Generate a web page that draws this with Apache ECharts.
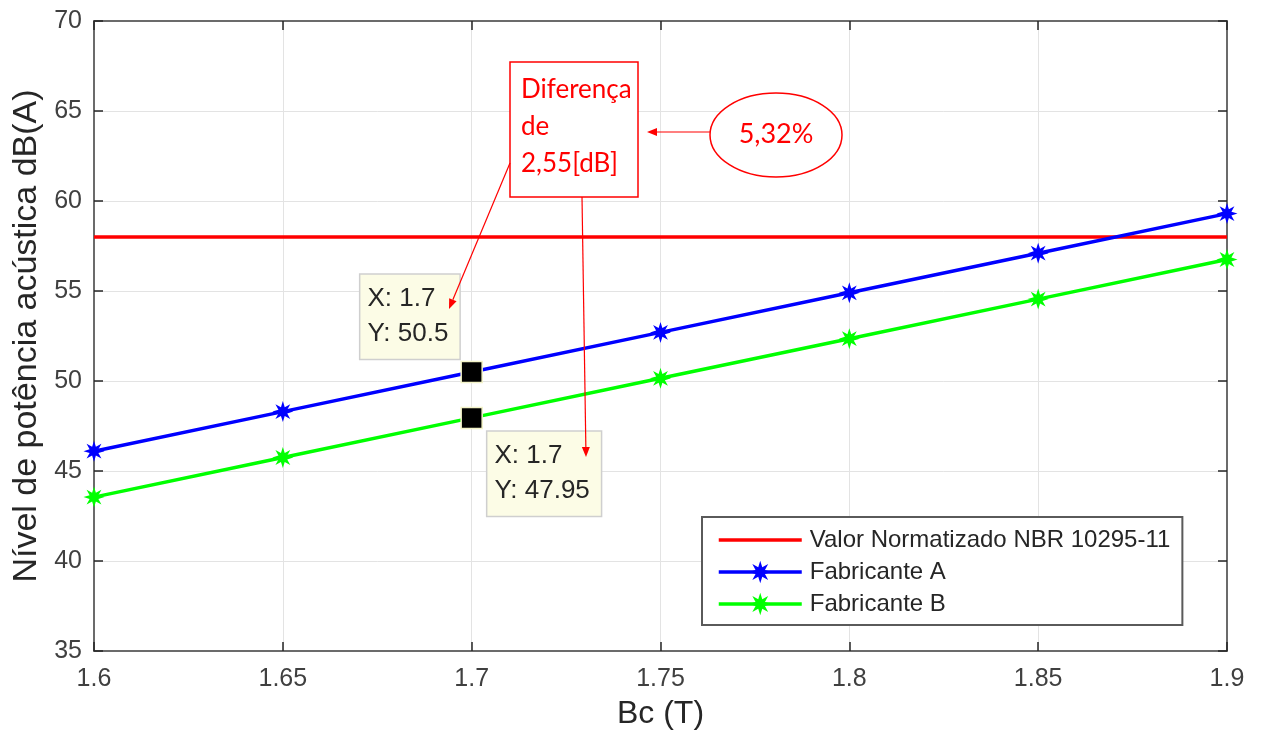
<!DOCTYPE html>
<html>
<head>
<meta charset="utf-8">
<script src="https://cdn.jsdelivr.net/npm/echarts@6/dist/echarts.min.js"></script>
<style>
html,body{margin:0;padding:0;background:#fff;}
#chart{width:1261px;height:735px;}
</style>
</head>
<body>
<div id="chart"></div>
<script>
// ---- data ----
const xValues = [1.6, 1.65, 1.7, 1.75, 1.8, 1.85, 1.9];
const fabricanteA = [46.1, 48.3, 50.5, 52.7, 54.9, 57.1, 59.3];
const fabricanteB = [43.55, 45.75, 47.95, 50.15, 52.35, 54.55, 56.75];
const normValue = 58;
const seriesNames = ['Valor Normatizado NBR 10295-11', 'Fabricante A', 'Fabricante B'];
const tipPoints = [[1.7, 50.5], [1.7, 47.95]];
const xLabel = 'Bc (T)';
const yLabel = 'Nível de potência acústica dB(A)';
const noteLines = ['Diferença', 'de', '2,55[dB]'];
const noteEllipse = '5,32%';

// ---- styling ----
const FONT = '"Liberation Sans", Arial, sans-serif';
const NOTE_FONT = 'Lato, "Open Sans", sans-serif';
const RED = '#ff0000';
const STAR = 'path://M20 10 L14.2 11.8 L17.071 17.071 L11.8 14.2 L10 20 L8.2 14.2 L2.929 17.071 L5.8 11.8 L0 10 L5.8 8.2 L2.929 2.929 L8.2 5.8 L10 0 L11.8 5.8 L17.071 2.929 L14.2 8.2 Z';
const tipLabelPos = [[-100, -86], [27, 25]];

const chart = echarts.init(document.getElementById('chart'), null, {renderer: 'canvas'});

const axisLineStyle = {color: '#6b6b6b', width: 2};
const tickStyle = {color: '#262626', width: 1.5};

const option = {
  animation: false,
  backgroundColor: '#fff',
  grid: {left: 94, right: 34, top: 21, bottom: 83, show: false},
  xAxis: [{
    type: 'value', min: 1.6, max: 1.9, interval: 0.05,
    axisLine: {show: true, onZero: false, lineStyle: axisLineStyle},
    axisTick: {show: true, inside: true, length: 9, lineStyle: tickStyle},
    splitLine: {show: true, lineStyle: {color: '#e3e3e3', width: 1}},
    axisLabel: {fontSize: 25, color: '#404040', fontFamily: FONT, margin: 16,
      formatter: v => String(+v.toFixed(2))},
    name: xLabel, nameLocation: 'middle', nameGap: 47,
    nameTextStyle: {fontSize: 32, color: '#262626', fontFamily: FONT}
  }, {
    type: 'value', min: 1.6, max: 1.9, interval: 0.05, position: 'top',
    axisLine: {show: true, onZero: false, lineStyle: axisLineStyle},
    axisTick: {show: true, inside: true, length: 9, lineStyle: tickStyle},
    splitLine: {show: false}, axisLabel: {show: false}
  }],
  yAxis: [{
    type: 'value', min: 35, max: 70, interval: 5,
    axisLine: {show: true, onZero: false, lineStyle: axisLineStyle},
    axisTick: {show: true, inside: true, length: 9, lineStyle: tickStyle},
    splitLine: {show: true, lineStyle: {color: '#e3e3e3', width: 1}},
    axisLabel: {fontSize: 25, color: '#404040', fontFamily: FONT, margin: 12},
    name: yLabel, nameLocation: 'middle', nameGap: 50, nameRotate: 90,
    nameTextStyle: {fontSize: 34, color: '#262626', fontFamily: FONT}
  }, {
    type: 'value', min: 35, max: 70, interval: 5, position: 'right',
    axisLine: {show: true, onZero: false, lineStyle: axisLineStyle},
    axisTick: {show: true, inside: true, length: 9, lineStyle: tickStyle},
    splitLine: {show: false}, axisLabel: {show: false}
  }],
  legend: {
    data: [
      {name: seriesNames[0], itemStyle: {opacity: 0}, lineStyle: {width: 3.5}},
      {name: seriesNames[1], lineStyle: {width: 3.5}},
      {name: seriesNames[2], lineStyle: {width: 3.5}}
    ],
    orient: 'vertical', left: 702, top: 517,
    padding: [11, 12, 9, 15], itemWidth: 83, itemHeight: 28, itemGap: 8,
    borderColor: '#5a5a5a', borderWidth: 2, backgroundColor: '#fff',
    textStyle: {fontSize: 24, color: '#262626', fontFamily: FONT, padding: [0, 0, 0, 3]},
    selectedMode: false
  },
  series: [
    {
      name: seriesNames[0], type: 'line', symbol: 'none',
      data: xValues.map(x => [x, normValue]),
      lineStyle: {color: RED, width: 3.5}, itemStyle: {color: RED}, z: 2
    },
    {
      name: seriesNames[1], type: 'line', symbol: STAR, symbolSize: 21, showSymbol: true,
      data: xValues.map((x, i) => [x, fabricanteA[i]]),
      lineStyle: {color: '#0000ff', width: 3.5}, itemStyle: {color: '#0000ff'}, z: 3
    },
    {
      name: seriesNames[2], type: 'line', symbol: STAR, symbolSize: 21, showSymbol: true,
      data: xValues.map((x, i) => [x, fabricanteB[i]]),
      lineStyle: {color: '#00ff00', width: 3.5}, itemStyle: {color: '#00ff00'}, z: 3
    },
    {
      name: 'datatips', type: 'scatter', symbol: 'rect', symbolSize: 21, zlevel: 1,
      itemStyle: {color: '#000', opacity: 1, borderColor: '#f3f3c8', borderWidth: 1.5},
      data: tipPoints.map((p, i) => ({
        value: p,
        label: {
          show: true, position: tipLabelPos[i],
          formatter: 'X: ' + p[0] + '\nY: ' + p[1],
          fontSize: 26, fontFamily: FONT, color: '#262626', lineHeight: 35,
          backgroundColor: '#fcfce6', borderColor: '#cfcfcf', borderWidth: 1.5,
          padding: [7, 11, 7, 7]
        }
      }))
    }
  ]
};
chart.setOption(option);

// ---- red annotations (drawn overlay) ----
function arrow(x1, y1, x2, y2) {
  const dx = x2 - x1, dy = y2 - y1, len = Math.hypot(dx, dy);
  const ux = dx / len, uy = dy / len, L = 10, W = 4;
  const bx = x2 - ux * L, by = y2 - uy * L;
  return [
    {type: 'line', zlevel: 2, shape: {x1: x1, y1: y1, x2: bx, y2: by}, style: {stroke: RED, lineWidth: 1.2}, z: 100},
    {type: 'polygon', zlevel: 2, shape: {points: [[x2, y2], [bx - uy * W, by + ux * W], [bx + uy * W, by - ux * W]]},
     style: {fill: RED}, z: 100}
  ];
}
const graphics = [
  {type: 'rect', zlevel: 2, shape: {x: 510, y: 62, width: 128, height: 135},
   style: {fill: '#fff', stroke: RED, lineWidth: 1.5}, z: 100},
  {type: 'text', zlevel: 2, x: 521, y: 71, z: 101,
   style: {text: noteLines.join('\n'), fill: RED, font: '26px ' + NOTE_FONT, lineHeight: 37,
           verticalAlign: 'top'}},
  {type: 'ellipse', zlevel: 2, shape: {cx: 776, cy: 135, rx: 66, ry: 42},
   style: {fill: '#fff', stroke: RED, lineWidth: 1.5}, z: 100},
  {type: 'text', zlevel: 2, x: 776, y: 134, z: 101,
   style: {text: noteEllipse, fill: RED, font: '27px ' + NOTE_FONT, align: 'center', verticalAlign: 'middle'}}
].concat(arrow(710, 132, 647, 132), arrow(510, 163, 449, 309), arrow(582, 197, 586, 457));
chart.setOption({graphic: graphics});
</script>
</body>
</html>
